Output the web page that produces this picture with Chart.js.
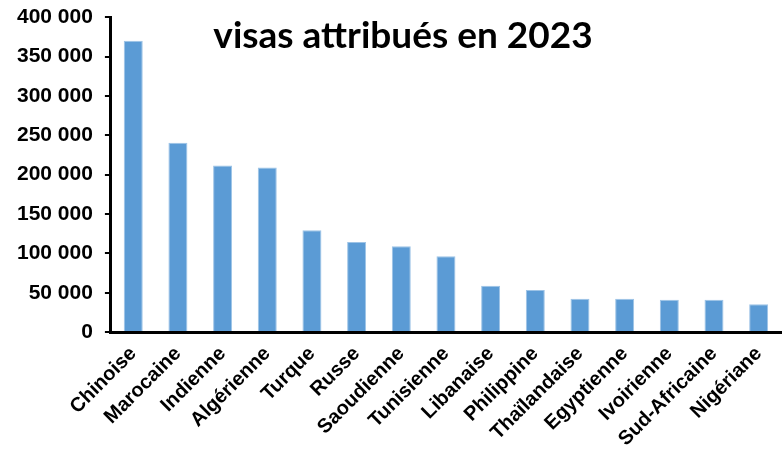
<!DOCTYPE html>
<html>
<head>
<meta charset="utf-8">
<script src="https://cdn.jsdelivr.net/npm/chart.js@4"></script>
<style>
  html, body { margin: 0; padding: 0; background: #fff; }
  #wrap { width: 783px; height: 463px; }
</style>
</head>
<body>
<div id="wrap"><canvas id="visaChart"></canvas></div>
<script>
const nationalities = [
  "Chinoise", "Marocaine", "Indienne", "Algérienne", "Turque", "Russe",
  "Saoudienne", "Tunisienne", "Libanaise", "Philippine", "Thaïlandaise",
  "Egyptienne", "Ivoirienne", "Sud-Africaine", "Nigériane",
];
const visas = [
  370000, 240500, 211500, 209000, 129500, 114500,
  109000, 96500, 59000, 53500, 42500, 42500, 41000, 41000, 35500,
];
const yTicks = [0, 50000, 100000, 150000, 200000, 250000, 300000, 350000, 400000];
const titleText = "visas attribués en 2023";

// thousands with a space, like the source
function fmt(v) {
  return String(v).replace(/\B(?=(\d{3})+(?!\d))/g, " ");
}

const yFont = { family: "'Liberation Sans', Arial, sans-serif", size: 21, weight: "bold", lineHeight: 0.5 };
const xFont = { family: "'Liberation Sans', Arial, sans-serif", size: 20, weight: "bold" };

// title sits inside the plot area
const innerTitle = {
  id: "innerTitle",
  afterDraw(chart) {
    const { ctx } = chart;
    ctx.save();
    ctx.font = "bold 37px Lato, sans-serif";
    ctx.fillStyle = "#000";
    ctx.textAlign = "center";
    ctx.textBaseline = "alphabetic";
    ctx.fillText(titleText, 403, 48);
    ctx.restore();
  },
};

const ctx = document.getElementById("visaChart").getContext("2d");
const visaChart = new Chart(ctx, {
  type: "bar",
  data: {
    labels: nationalities,
    datasets: [
      {
        label: titleText,
        data: visas,
        backgroundColor: "#5b9bd5",
        borderColor: "#9dc3e6",
        borderWidth: { top: 1, left: 1, right: 1, bottom: 0 },
        barPercentage: 0.85,
        categoryPercentage: 0.5,
      },
    ],
  },
  options: {
    responsive: true,
    maintainAspectRatio: false,
    animation: false,
    layout: { padding: { top: 0, right: 2, left: 5, bottom: 10 } },
    plugins: {
      legend: { display: false },
      tooltip: { enabled: false },
    },
    scales: {
      x: {
        offset: true,
        grid: { display: false },
        border: { display: true, color: "#000", width: 3 },
        ticks: {
          font: xFont,
          color: "#000",
          maxRotation: 45,
          minRotation: 45,
          autoSkip: false,
          padding: 2,
        },
      },
      y: {
        min: 0,
        max: 400000,
        afterBuildTicks(scale) {
          scale.ticks = yTicks.map((v) => ({ value: v }));
        },
        grid: {
          drawOnChartArea: false,
          drawTicks: true,
          tickLength: 6,
          color: "#000",
          lineWidth: 2,
        },
        border: { display: true, color: "#000", width: 3 },
        ticks: {
          font: yFont,
          color: "#000",
          padding: 12,
          callback: (v) => fmt(v),
        },
      },
    },
  },
  plugins: [innerTitle],
});
</script>
</body>
</html>
